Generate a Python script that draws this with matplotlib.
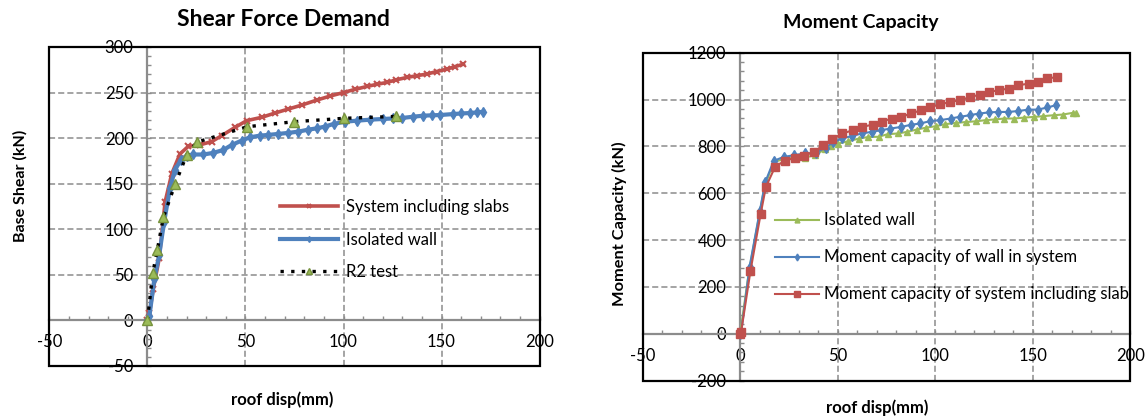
import matplotlib
matplotlib.use('Agg')
import matplotlib.pyplot as plt
from matplotlib.patches import Rectangle
from matplotlib.ticker import MultipleLocator

plt.rcParams['font.family'] = ['Lato', 'DejaVu Sans']
plt.rcParams['axes.unicode_minus'] = False

# --- Shear Force Demand (left) ---
slabs_x = [0, 1, 3, 6, 9, 12.4, 16.6, 20.9, 26.8, 32.8, 37.9, 44.7, 50.6, 58.3, 65.1, 71.9,
           78.7, 86.4, 93, 100, 106, 111.9, 117, 122.1, 127, 132.3, 137.5, 142.5, 147.5,
           152.7, 157, 161.2]
slabs_y = [0, 8, 35, 68, 130, 160.9, 182.7, 191, 192.6, 196.2, 202.7, 211.8, 219.1, 222.8,
           227.5, 231.9, 236.2, 241.7, 246, 250, 253.5, 256.6, 259, 261, 264, 266.5, 268.5,
           270.2, 273, 275.6, 278.5, 281.1]

wall_x = [0, 1, 3.5, 6, 8.5, 11.5, 14, 17, 20, 23.4, 28.5, 33.6, 38.7, 43, 48.1, 52.3, 57.4,
          61.7, 66.8, 71.9, 77, 82.1, 86.4, 90.5, 94.9, 100.8, 106.8, 113.6, 120.4, 125,
          129.7, 135.7, 140.8, 145, 149.3, 156.1, 160, 164.6, 168, 171.4]
wall_y = [0, 5, 45, 72, 108, 145, 165, 176, 180.9, 182, 182, 183.8, 187, 192.5, 197.3, 200.9,
          202.7, 203.5, 204.6, 205.7, 207.1, 209.3, 210.7, 212.6, 215.5, 218, 219.1, 220.2,
          221, 221.5, 222, 223.5, 224.6, 225, 225.3, 226.4, 227, 227.5, 228.2, 228.9]

r2_x = [0, 2.7, 5, 8.1, 14.2, 20, 25.2, 51, 75, 100.3, 126.8]
r2_y = [0, 52, 77, 113, 150, 181.5, 195.5, 212.5, 218, 221.7, 223.8]

# --- Moment Capacity (right) ---
iso_x = [0, 4.5, 10, 12.5, 17.2, 22.3, 27.5, 33, 38.3, 43.3, 46.5, 50.4, 55.5, 60.7, 65.8,
         71, 75.6, 80.8, 85.6, 90.7, 95.4, 100.2, 105.3, 110.5, 115.7, 120.8, 126, 130.6,
         135.4, 140.6, 145.7, 150.9, 155.5, 160.7, 165.5, 170.5, 172]
iso_y = [0, 265, 515, 627, 734, 745, 752, 752, 762, 787, 800, 812, 822, 833, 840, 841, 852,
         855, 862, 872, 880, 886, 895, 900, 904, 907, 912, 915, 919, 919, 923, 926, 929, 933,
         936, 943, 943]

msys_x = [0, 0.5, 4.8, 10.1, 12.9, 17.2, 22.3, 27.5, 33, 38.7, 43.8, 47.6, 52.4, 57.2, 62.4,
          67.4, 72.2, 77, 82.5, 87.5, 92.4, 97.6, 102.7, 107.9, 112.5, 117.7, 122.3, 127.5,
          132.3, 137.5, 142.6, 147.8, 152.6, 157.6, 161.9]
msys_y = [0, 5, 284, 525, 648, 738, 755, 762, 770, 772, 795, 817, 834, 844, 855, 862, 869,
          876, 883, 892, 898, 908, 912, 919, 926, 933, 940, 945, 947, 947, 951, 957, 957,
          966, 976]

mslab_x = [0, 0.5, 5.3, 10.5, 13.2, 18, 22.9, 28, 32.8, 38, 42.4, 47.3, 52.4, 57.9, 62.7,
           67.9, 72.5, 77.7, 82.7, 87.8, 92.8, 97.6, 102.6, 107.7, 112.9, 118, 123.2, 127.5,
           132.6, 137.8, 142.6, 148.1, 152.9, 157.6, 162.4]
mslab_y = [0, 8, 269, 511, 627, 714, 738, 751, 760, 777, 804, 832, 855, 869, 883, 893, 905,
           919, 926, 941, 954, 968, 979, 990, 997, 1011, 1021, 1032, 1040, 1047, 1061, 1068,
           1075, 1090, 1096]

RED = '#c0504d'
BLUE = '#4f81bd'
GREEN = '#9bbb59'
GRAY = '#8c8c8c'


def excel_axes(ax, xlim, ylim, xstep, ystep, xminor, yminor):
    ax.set_xlim(*xlim)
    ax.set_ylim(*ylim)
    ax.xaxis.set_major_locator(MultipleLocator(xstep))
    ax.yaxis.set_major_locator(MultipleLocator(ystep))
    ax.xaxis.set_minor_locator(MultipleLocator(xminor))
    ax.yaxis.set_minor_locator(MultipleLocator(yminor))
    for s in ['top', 'right']:
        ax.spines[s].set_visible(False)
    for s in ['left', 'bottom']:
        ax.spines[s].set_position(('data', 0))
        ax.spines[s].set_color(GRAY)
        ax.spines[s].set_linewidth(1.6)
        ax.spines[s].set_zorder(1.5)
    ax.grid(True, which='major', linestyle=(0, (4, 2)), color=GRAY, linewidth=1.1)
    ax.set_axisbelow(True)
    ax.tick_params(which='both', direction='in', color=GRAY, width=1, length=3,
                   labelsize=12)
    ax.tick_params(axis='y', pad=10)
    ax.tick_params(axis='x', pad=10)
    ax.add_patch(Rectangle((0, 0), 1, 1, transform=ax.transAxes, fill=False,
                           ec='black', lw=1.6, clip_on=False, zorder=5))


fig = plt.figure(figsize=(11.47, 4.16), dpi=100)

ax1 = fig.add_axes([0.0431, 0.1202, 0.4273, 0.767])
excel_axes(ax1, (-50, 200), (-50, 300), 50, 50, 10, 10)
ax1.plot(slabs_x, slabs_y, color=RED, lw=2.6, marker='x', ms=5, mew=1.5,
         label='System including slabs', zorder=3)
ax1.plot(wall_x, wall_y, color=BLUE, lw=3, marker='d', ms=5,
         label='Isolated wall', zorder=3)
ax1.plot(r2_x, r2_y, color='black', lw=2.4, linestyle=(0, (1, 2.2)), marker='^', ms=7,
         mfc=GREEN, mec='#77933c', label='R2 test', zorder=4)
fig.legend(*ax1.get_legend_handles_labels(), loc='upper left',
           bbox_to_anchor=(0.244, 0.521), frameon=False, fontsize=12,
           handlelength=3.5, handletextpad=0.45, labelspacing=0.98,
           numpoints=1, markerscale=0.6, borderpad=0, borderaxespad=0)

ax2 = fig.add_axes([0.5603, 0.0853, 0.425, 0.788])
excel_axes(ax2, (-50, 200), (-200, 1200), 50, 200, 10, 40)
ax2.plot(iso_x, iso_y, color=GREEN, lw=1.5, marker='^', ms=5,
         label='Isolated wall', zorder=3)
ax2.plot(msys_x, msys_y, color=BLUE, lw=1.5, marker='d', ms=5,
         label='Moment capacity of wall in system', zorder=3)
ax2.plot(mslab_x, mslab_y, color=RED, lw=1.5, marker='s', ms=5.5,
         label='Moment capacity of system including slab', zorder=3)
fig.legend(*ax2.get_legend_handles_labels(), loc='upper left',
           bbox_to_anchor=(0.6753, 0.4895), frameon=False, fontsize=12,
           handlelength=2.65, handletextpad=0.3, labelspacing=1.26,
           numpoints=1, markerscale=0.7, borderpad=0, borderaxespad=0)

# titles and axis labels
fig.text(0.2467, 0.952, 'Shear Force Demand', ha='center', va='center',
         fontsize=16.5, fontweight='bold')
fig.text(0.7507, 0.947, 'Moment Capacity', ha='center', va='center',
         fontsize=14, fontweight='bold')
fig.text(0.018, 0.553, 'Base Shear (kN)', rotation=90, ha='center', va='center',
         fontsize=11.5, fontweight='bold')
fig.text(0.540, 0.462, 'Moment Capacity (kN)', rotation=90, ha='center', va='center',
         fontsize=11.8, fontweight='bold')
fig.text(0.246, 0.040, 'roof disp(mm)', ha='center', va='center',
         fontsize=12, fontweight='bold')
fig.text(0.765, 0.019, 'roof disp(mm)', ha='center', va='center',
         fontsize=12, fontweight='bold')

fig.savefig('out.png', dpi=100)
